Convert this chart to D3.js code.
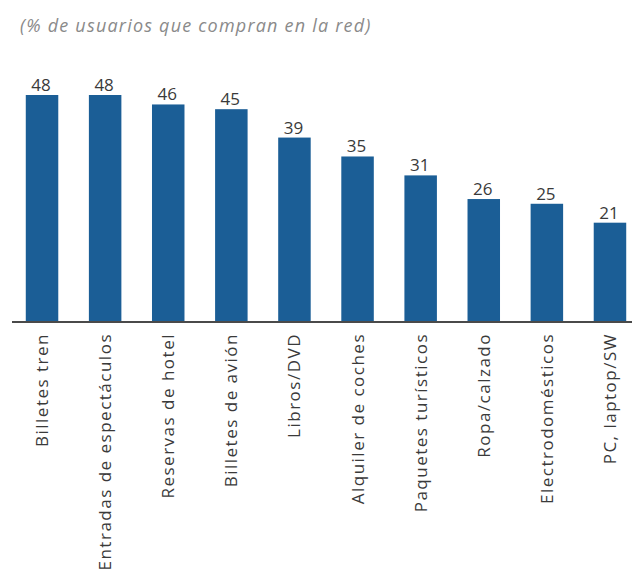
<!DOCTYPE html>
<html>
<head>
<meta charset="utf-8">
<script src="https://cdn.jsdelivr.net/npm/d3@7"></script>
<style>
  html, body { margin: 0; padding: 0; background: #fff; }
  svg { display: block; }
</style>
</head>
<body>
<svg id="chart" width="632" height="573"></svg>
<script>
// Compras en línea por categoría (% de usuarios)
const categories = [
  "Billetes tren", "Entradas de espectáculos", "Reservas de hotel",
  "Billetes de avión", "Libros/DVD", "Alquiler de coches",
  "Paquetes turísticos", "Ropa/calzado", "Electrodomésticos", "PC, laptop/SW"
];
const values = [48, 48, 46, 45, 39, 35, 31, 26, 25, 21];
const subtitle = "(% de usuarios que compran en la red)";

const svg = d3.select("#chart");
const baseY = 322;
const topY = 95;

const x = d3.scaleBand()
  .domain(categories)
  .range([10, 642])
  .paddingInner(0.485)
  .paddingOuter(0.25);

const y = d3.scaleLinear()
  .domain([0, 48])
  .range([baseY, topY]);

// subtítulo
svg.append("text")
  .attr("x", 20)
  .attr("y", 32)
  .attr("font-family", "Open Sans, sans-serif")
  .attr("font-style", "italic")
  .attr("font-size", 18)
  .attr("letter-spacing", 1.2)
  .attr("fill", "#8a8a8a")
  .text(subtitle);

const data = categories.map((c, i) => ({ c, v: values[i] }));

// barras
svg.append("g").selectAll("rect")
  .data(data)
  .join("rect")
  .attr("x", d => x(d.c))
  .attr("y", d => y(d.v))
  .attr("width", x.bandwidth())
  .attr("height", d => y(0) - y(d.v))
  .attr("fill", "#1b5e96");

// valores sobre las barras
svg.append("g").selectAll("text")
  .data(data)
  .join("text")
  .attr("x", d => x(d.c) + x.bandwidth() / 2 - 1)
  .attr("y", d => y(d.v) - 4)
  .attr("text-anchor", "middle")
  .attr("font-family", "Open Sans, sans-serif")
  .attr("font-size", 17)
  .attr("fill", "#3a3a3a")
  .text(d => d.v);

// eje horizontal
const axis = d3.axisBottom(x).tickSize(0).tickPadding(0);
const gAxis = svg.append("g")
  .attr("transform", `translate(0,${baseY})`)
  .call(axis);
gAxis.select(".domain").remove();
svg.append("line")
  .attr("x1", 12).attr("x2", 632)
  .attr("y1", baseY).attr("y2", baseY)
  .attr("stroke", "#4a4a4a")
  .attr("stroke-width", 2);

gAxis.selectAll(".tick text")
  .attr("font-family", "Open Sans, sans-serif")
  .attr("font-size", 17)
  .attr("letter-spacing", 1.5)
  .attr("fill", "#3a3a3a")
  .attr("text-anchor", "end")
  .attr("transform", "rotate(-90)")
  .attr("x", -11)
  .attr("y", 0)
  .attr("dy", "0.35em");
</script>
</body>
</html>
